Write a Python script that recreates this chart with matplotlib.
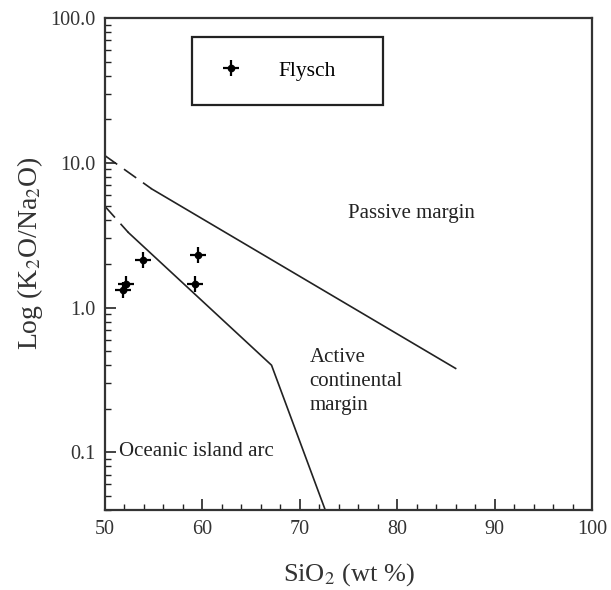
import numpy as np
import matplotlib
matplotlib.use("Agg")
import matplotlib.pyplot as plt
from matplotlib.ticker import MultipleLocator, LogLocator, FixedLocator, FixedFormatter, NullFormatter

plt.rcParams['font.family'] = ['Liberation Serif', 'DejaVu Serif']
plt.rcParams['mathtext.fontset'] = 'stix'

# ---- data ----
flysch_sio2 = [51.8, 52.2, 53.9, 59.5, 59.2]
flysch_ratio = [1.33, 1.45, 2.12, 2.32, 1.45]

# upper boundary (passive / active margin)
upper_dash_x = [50.0, 54.8]
upper_dash_y = [11.2, 6.6]
upper_x = [54.8, 86.0]
upper_y = [6.6, 0.38]

# lower boundary (active margin / island arc)
lower_dash_x = [50.0, 52.4]
lower_dash_y = [5.0, 3.3]
lower_x = [52.4, 67.1, 72.8]
lower_y = [3.3, 0.40, 0.037]

yticks = [0.1, 1.0, 10.0, 100.0]
ytick_labels = ["0.1", "1.0", "10.0", "100.0"]

fig = plt.figure(figsize=(6.11, 5.90), dpi=100)
ax = fig.add_axes([0.1718, 0.1356, 0.7971, 0.8339])

c = '#222222'
ax.plot(upper_dash_x, upper_dash_y, color=c, lw=1.2, dashes=(9, 5))
ax.plot(upper_x, upper_y, color=c, lw=1.2)
ax.plot(lower_dash_x, lower_dash_y, color=c, lw=1.2, dashes=(9, 5))
ax.plot(lower_x, lower_y, color=c, lw=1.2)

p1, = ax.plot(flysch_sio2, flysch_ratio, ls='none', marker='+', ms=12, mew=1.6, color='black')
p2, = ax.plot(flysch_sio2, flysch_ratio, ls='none', marker='o', ms=4.5, color='black')

ax.set_yscale('log')
ax.set_xlim(50, 100)
ax.set_ylim(0.04, 100)

ax.xaxis.set_major_locator(MultipleLocator(10))
ax.xaxis.set_minor_locator(MultipleLocator(2))
ax.yaxis.set_major_locator(FixedLocator(yticks))
ax.yaxis.set_major_formatter(FixedFormatter(ytick_labels))
ax.yaxis.set_minor_locator(LogLocator(base=10, subs=np.arange(2, 10)))
ax.yaxis.set_minor_formatter(NullFormatter())

ax.tick_params(which='both', direction='in', top=False, right=False, labelsize=14.5,
               colors=c, labelcolor='#333333')
ax.tick_params(which='major', length=8, width=1.2, pad=7)
ax.tick_params(which='minor', length=4.5, width=1.0)
for s in ax.spines.values():
    s.set_linewidth(1.6)
    s.set_color('#333333')

ax.set_xlabel(r"SiO$_{\mathrm{2}}$ (wt %)", fontsize=19, labelpad=16, color='#333333')
ax.set_ylabel(r"Log (K$_{\mathrm{2}}$O/Na$_{\mathrm{2}}$O)", fontsize=20, color='#333333')
ax.yaxis.set_label_coords(-0.124, 0.522)

ax.text(74.9, 4.5, "Passive margin", fontsize=15, va='center', ha='left', color=c)
ax.text(71.0, 0.31, "Active\ncontinental\nmargin", fontsize=15, va='center', ha='left',
        linespacing=1.35, color=c)
ax.text(51.4, 0.102, "Oceanic island arc", fontsize=15, va='center', ha='left', color=c)

leg = ax.legend([(p1, p2)], ["Flysch"], loc='upper left',
                bbox_to_anchor=(0.179, 0.827, 0.392, 0.134), mode='expand',
                borderaxespad=0, fancybox=False, edgecolor='#222222', framealpha=1,
                fontsize=15.5, borderpad=1.1, handlelength=1.4, handletextpad=1.5)
leg.get_frame().set_linewidth(1.6)

fig.savefig("out.png", dpi=100)
